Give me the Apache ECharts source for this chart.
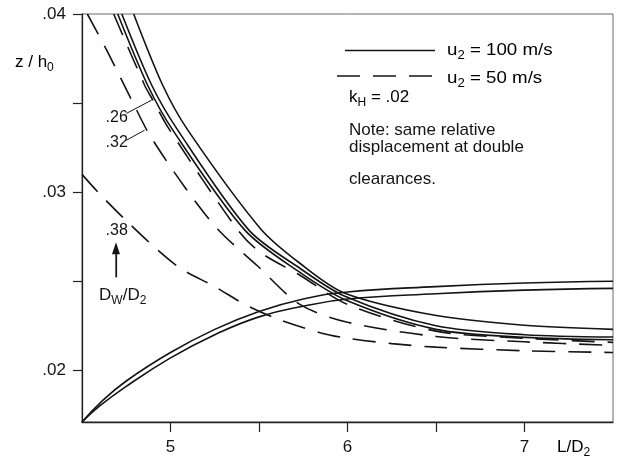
<!DOCTYPE html>
<html>
<head>
<meta charset="utf-8">
<script src="https://cdn.jsdelivr.net/npm/echarts@6/dist/echarts.min.js"></script>
<style>
  html, body { margin: 0; padding: 0; background: #fff; }
  #chart { width: 618px; height: 458px; }
</style>
</head>
<body>
<div id="chart"></div>
<script>
// Axis ticks and labels
const xLabelValues = [5, 6, 7];
const xTickValues = [5, 5.5, 6, 6.5, 7];
const yLabelValues = [0.02, 0.03, 0.04];
const yTickValues = [0.02, 0.025, 0.03, 0.035, 0.04];

// u2 = 100 m/s (solid) — falling branches
const u100_fallA = [[4.702,0.0400],[4.871,0.0360],[5.013,0.03348],[5.420,0.02787],[5.731,0.0255],[6.0,0.0239],[6.5,0.0223],[7.0,0.02185],[7.5,0.02172]];
const u100_fallB = [[4.725,0.0400],[4.894,0.0360],[5.041,0.03348],[5.443,0.02787],[5.731,0.02573],[5.985,0.02416],[6.5,0.0225],[7.0,0.0220],[7.5,0.02187]];
const u100_fallC = [[4.792,0.0400],[4.956,0.0360],[5.098,0.03348],[5.506,0.02798],[5.731,0.02601],[5.985,0.02433],[6.494,0.02309],[6.998,0.02253],[7.5,0.0223]];
// u2 = 100 m/s (solid) — rising branches
const u100_riseA = [[4.5,0.0171],[4.6,0.01815],[4.75,0.0194],[5.0,0.0210],[5.25,0.0223],[5.5,0.0233],[5.75,0.0240],[6.0,0.0244],[6.5,0.0247],[7.0,0.0249],[7.5,0.0250]];
const u100_riseB = [[4.5,0.0171],[4.6,0.0180],[4.75,0.0191],[5.0,0.0207],[5.25,0.0220],[5.5,0.0230],[5.75,0.0236],[6.0,0.0240],[6.5,0.0243],[7.0,0.0245],[7.5,0.0246]];

// u2 = 50 m/s (dashed), one curve per Dw/D2
const u50_d26 = [[4.679,0.0400],[4.854,0.0360],[4.900,0.03517],[4.996,0.03348],[5.381,0.02787],[5.506,0.02663],[5.731,0.02534],[6.0,0.0237],[6.5,0.0222],[7.0,0.0218],[7.5,0.02157]];
const u50_d32 = [[4.530,0.0400],[4.638,0.0380],[4.786,0.03506],[4.883,0.0332],[5.081,0.03028],[5.267,0.02792],[5.494,0.02584],[5.731,0.0237],[6.0,0.0227],[6.5,0.0219],[7.0,0.0216],[7.5,0.0214]];
const u50_d38 = [[4.5,0.0310],[4.6,0.0299],[4.75,0.0284],[4.9,0.0270],[5.06,0.0257],[5.25,0.0247],[5.42,0.0237],[5.6,0.0229],[5.85,0.0221],[6.0,0.0218],[6.25,0.0215],[6.5,0.0213],[7.0,0.0211],[7.5,0.0210]];

// Curve annotations
const dwLabels = [
  { text: '.26', at: [4.696, 0.03416] },
  { text: '.32', at: [4.696, 0.03277] },
  { text: '.38', at: [4.696, 0.02787] }
];
const leader26 = [[4.751, 0.03442], [4.894, 0.03517]];
const leader32 = [[4.752, 0.03292], [4.854, 0.03348]];
const arrowDw = [[4.692, 0.02522], [4.692, 0.02685]];
const dwCaptionAt = [4.730, 0.02421];

const FONT = '"Liberation Sans", Arial, Helvetica, sans-serif';
const INK = '#141414';

const chart = echarts.init(document.getElementById('chart'), null, { renderer: 'canvas' });

function curve(data, dashed, smooth) {
  return {
    type: 'line',
    data: data,
    smooth: smooth || 0.3,
    symbol: 'none',
    silent: true,
    clip: true,
    lineStyle: { color: INK, width: 1.6, type: dashed ? [23, 13] : 'solid' },
    z: 3
  };
}

function leader(data) {
  return {
    type: 'line', data: data, symbol: 'none', silent: true,
    lineStyle: { color: INK, width: 1 }, z: 4
  };
}

const subRich = {
  n: { fontSize: 17, fontFamily: FONT, color: INK, lineHeight: 22, verticalAlign: 'middle' },
  s: { fontSize: 12, fontFamily: FONT, color: INK, lineHeight: 22, verticalAlign: 'bottom' }
};

const option = {
  animation: false,
  backgroundColor: '#fff',
  grid: {
    left: 82, right: 5, top: 14, bottom: 36,
    show: true, borderColor: '#6a6a6a', borderWidth: 1, backgroundColor: 'transparent'
  },
  xAxis: {
    type: 'value', min: 4.5, max: 7.5,
    axisLine: { show: true, onZero: false, lineStyle: { color: '#222', width: 1.3 } },
    axisTick: { show: true, inside: false, length: 10, customValues: xTickValues, lineStyle: { color: '#222', width: 1.2 } },
    axisLabel: { customValues: xLabelValues, margin: 17, fontSize: 17, fontFamily: FONT, color: INK,
      formatter: v => String(v) },
    splitLine: { show: false }
  },
  yAxis: {
    type: 'value', min: 0.0171, max: 0.04,
    axisLine: { show: true, onZero: false, lineStyle: { color: '#222', width: 1.3 } },
    axisTick: { show: true, inside: false, length: 9, customValues: yTickValues, lineStyle: { color: '#222', width: 1.2 } },
    axisLabel: { customValues: yLabelValues, margin: 16, fontSize: 17, fontFamily: FONT, color: INK,
      formatter: v => v.toFixed(2).replace(/^0/, '') },
    splitLine: { show: false }
  },
  series: [
    curve(u100_fallA, false),
    curve(u100_fallB, false),
    curve(u100_fallC, false),
    curve(u100_riseA, false, 0.45),
    curve(u100_riseB, false, 0.45),
    curve(u50_d26, true),
    curve(u50_d32, true),
    curve(u50_d38, true),
    leader(leader26),
    leader(leader32),
    {
      type: 'line', data: arrowDw, symbol: 'none', silent: true,
      lineStyle: { color: INK, width: 1.2 }, z: 4,
      markLine: {
        silent: true, symbol: ['none', 'triangle'], symbolSize: [8, 12],
        lineStyle: { color: INK, width: 1.2, type: 'solid' }, label: { show: false },
        data: [[{ coord: arrowDw[0] }, { coord: arrowDw[1] }]]
      }
    },
    {
      type: 'scatter', symbolSize: 0, silent: true, z: 5,
      itemStyle: { opacity: 1 },
      data: dwLabels.map(d => ({ value: d.at, name: d.text })),
      label: { show: true, position: 'inside', formatter: p => p.name,
        fontSize: 16, fontFamily: FONT, color: INK, textBorderWidth: 0, opacity: 1 }
    },
    {
      type: 'scatter', symbolSize: 0, silent: true, z: 5,
      itemStyle: { opacity: 1 },
      data: [{ value: dwCaptionAt }],
      label: { show: true, position: 'inside', color: INK, textBorderWidth: 0, opacity: 1,
        formatter: '{n|D}{s|W}{n|/D}{s|2}', rich: subRich }
    }
  ],
  graphic: [
    // axis titles
    { type: 'text', left: 15, top: 54, silent: true,
      style: { text: '{n|z / h}{s|0}', rich: subRich } },
    { type: 'text', left: 557, top: 439, silent: true,
      style: { text: '{n|L/D}{s|2}', rich: subRich } },
    // legend
    { type: 'line', silent: true, shape: { x1: 345, y1: 50.5, x2: 435, y2: 50.5 },
      style: { stroke: INK, lineWidth: 1.6 } },
    { type: 'line', silent: true, shape: { x1: 337, y1: 76, x2: 435, y2: 76 },
      style: { stroke: INK, lineWidth: 1.6, lineDash: [23, 13] } },
    { type: 'text', left: 447, top: 42, silent: true, scaleX: 1.1,
      style: { text: '{n|u}{s|2}{n| = 100 m/s}', rich: subRich } },
    { type: 'text', left: 447, top: 70, silent: true, scaleX: 1.1,
      style: { text: '{n|u}{s|2}{n| = 50 m/s}', rich: subRich } },
    { type: 'text', left: 349, top: 89, silent: true,
      style: { text: '{n|k}{s|H}{n| = .02}', rich: subRich } },
    { type: 'text', left: 349, top: 122, silent: true,
      style: { text: 'Note: same relative\ndisplacement at double', font: '17px ' + FONT, fill: INK, lineHeight: 17 } },
    { type: 'text', left: 349, top: 171, silent: true,
      style: { text: 'clearances.', font: '17px ' + FONT, fill: INK } }
  ]
};

chart.setOption(option);
</script>
</body>
</html>
